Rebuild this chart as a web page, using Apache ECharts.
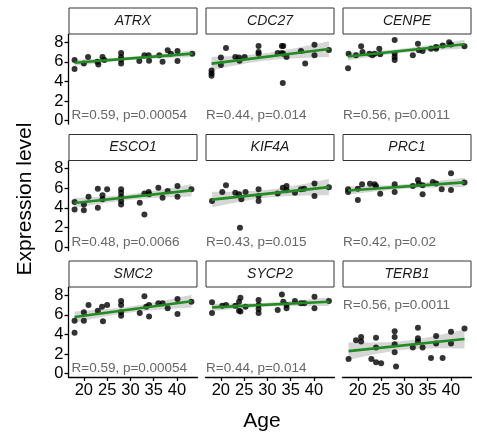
<!DOCTYPE html>
<html><head><meta charset="utf-8">
<script src="https://cdn.jsdelivr.net/npm/echarts@6/dist/echarts.min.js"></script>
<style>html,body{margin:0;padding:0;background:#fff}#c{width:477px;height:432px}</style>
</head><body><div id="c"></div>
<script>
const genes = ['ATRX','CDC27','CENPE','ESCO1','KIF4A','PRC1','SMC2','SYCP2','TERB1'];
const statLabels = ['R=0.59, p=0.00054','R=0.44, p=0.014','R=0.56, p=0.0011','R=0.48, p=0.0066','R=0.43, p=0.015','R=0.42, p=0.02','R=0.59, p=0.00054','R=0.44, p=0.014','R=0.56, p=0.0011'];
const xTicks = [20,25,30,35,40];
const yTicks = [0,2,4,6,8];
const ATRX = [[18,6.17],[18,5.27],[20,5.83],[20.9,6.5],[22.9,6.0],[23.1,5.73],[24,6.5],[24.4,6.17],[28,6.9],[28,6.5],[28,5.83],[28,6.2],[31.9,6.07],[33,6.67],[33.9,6.67],[34,6.1],[36.2,6.67],[36.9,6.0],[38,7.17],[38.7,6.83],[40.1,7.1],[40.1,6.07],[43.3,6.83]];
const CDC27 = [[18,5.1],[18,4.83],[18,4.57],[20,6.43],[20,5.67],[21.1,7.4],[23.1,6.5],[23.9,6.43],[24,6.1],[25.1,6.5],[28.1,7.6],[28.1,7.0],[28.1,6.83],[32.2,6.9],[33.1,7.6],[33.4,7.6],[33.1,6.9],[33.4,6.83],[33.3,3.83],[34.1,6.5],[37.2,7.1],[38.1,5.83],[40.1,7.73],[40.1,6.67],[43.2,7.2]];
const CENPE = [[17.9,5.33],[18,6.83],[19.6,6.67],[20.7,7.57],[21,7.0],[22.5,6.83],[23.1,6.67],[23.6,6.83],[24.6,7.33],[24.8,6.77],[27.9,8.23],[27.9,6.83],[27.9,6.5],[27.9,6.17],[31.8,6.67],[32.9,7.83],[33.1,7.17],[33.9,7.1],[35.7,7.33],[36.8,7.5],[36.8,7.33],[38.2,7.67],[39.6,8.0],[40,7.77],[42.9,7.57]];
const ESCO1 = [[18,3.85],[18,4.6],[20,4.36],[20,3.75],[21,5.14],[23,5.96],[23,4.02],[24,4.87],[24,5.28],[25,5.89],[28,5.89],[28,5.55],[28,5.14],[28,4.7],[28,4.36],[32,4.53],[33,3.34],[33,5.48],[33.9,5.62],[34,5.38],[36,6.06],[36.9,5.04],[38,5.72],[40.1,6.23],[40.1,5.14],[43.1,5.89]];
const KIF4A = [[18.1,4.7],[20.3,5.62],[21.1,6.3],[23.1,5.55],[23.9,5.38],[24.4,4.87],[25.3,5.62],[24.1,1.98],[28.1,5.89],[28.1,5.21],[28.1,4.7],[32.2,5.48],[33.3,6.06],[34.1,6.23],[34.1,5.8],[35.9,5.55],[37.2,5.89],[37.9,5.96],[40.1,6.5],[40.1,5.21],[43.2,6.1]];
const PRC1 = [[17.9,5.89],[17.9,5.62],[20,4.8],[20,5.96],[20.9,6.4],[22.6,6.47],[23.6,6.4],[23.9,6.23],[24.8,5.45],[27.9,6.4],[27.9,5.62],[31.8,6.23],[32.9,6.84],[33.1,6.5],[33.9,6.3],[33.9,5.38],[36.1,6.64],[36.8,6.5],[38,5.89],[40,7.52],[40,5.82],[42.9,6.6]];
const SMC2 = [[18,5.4],[18,4.17],[20,5.4],[20,6.27],[21,7.0],[23,6.4],[23.9,6.83],[24.1,5.33],[25,7.0],[28,7.4],[28,7.0],[28,6.27],[28,5.9],[32,6.17],[33,7.9],[33.4,6.83],[34,5.83],[34,7.0],[36,7.17],[36.9,7.17],[38,6.67],[40.1,7.6],[40.1,6.07],[43.1,7.33]];
const SYCP2 = [[18.1,7.27],[18.1,6.17],[20.3,6.93],[21.1,7.0],[23.1,6.93],[23.9,7.33],[24.2,7.73],[23.9,6.4],[24.2,6.33],[25.3,6.83],[28.1,7.5],[28.1,7.0],[28.1,6.6],[28.1,6.17],[32.2,6.5],[33.1,8.07],[33.4,7.33],[34.1,7.0],[34.1,6.67],[35.9,7.4],[37.2,7.17],[37.9,7.17],[40.1,7.83],[40.1,6.67],[43.2,7.4]];
const TERB1 = [[18,1.5],[19.6,3.4],[20.7,3.73],[20.7,3.27],[23.9,3.67],[23.9,2.67],[22.9,1.5],[23.9,1.17],[25,1.07],[27.9,4.33],[27.9,3.73],[27.9,3.0],[27.9,2.17],[28.2,0.73],[31.8,2.67],[32.9,4.67],[32.9,3.6],[32.9,3.27],[33.9,2.67],[35.7,1.6],[36.8,3.83],[36.8,3.07],[38.2,1.6],[40,4.27],[40,3.07],[42.9,4.6]];
const allData = [ATRX,CDC27,CENPE,ESCO1,KIF4A,PRC1,SMC2,SYCP2,TERB1];

const FONT = '"Liberation Sans", Arial, Helvetica, sans-serif';
const colLeft = [68.5, 205.5, 342.5], panelW = 129;
const rowTop = [34.5, 161, 287.5], panelH = 89.5, stripH = 27;
const XMIN = 16.7, XMAX = 44.4, YMIN = -0.34, YMAX = 8.78;

function fitLM(d){
  const n = d.length;
  let sx=0, sy=0; d.forEach(p=>{sx+=p[0]; sy+=p[1];});
  const mx=sx/n, my=sy/n;
  let sxx=0, sxy=0; d.forEach(p=>{sxx+=(p[0]-mx)**2; sxy+=(p[0]-mx)*(p[1]-my);});
  const b=sxy/sxx, a=my-b*mx;
  let sse=0; d.forEach(p=>{sse+=(p[1]-a-b*p[0])**2;});
  const s=Math.sqrt(sse/(n-2));
  const df=n-2, z=1.96, t=z+(z**3+z)/(4*df);
  const xs=d.map(p=>p[0]); const x0=Math.min(...xs), x1=Math.max(...xs);
  const band=[];
  for(let k=0;k<=40;k++){
    const x=x0+(x1-x0)*k/40, yh=a+b*x;
    const se=s*Math.sqrt(1/n+(x-mx)**2/sxx);
    band.push([x, yh-t*se, yh+t*se]);
  }
  return {line:[[x0,a+b*x0],[x1,a+b*x1]], band};
}

const grids=[], xAxes=[], yAxes=[], series=[], graphics=[];
genes.forEach((g,i)=>{
  const r=Math.floor(i/3), c=i%3;
  grids.push({left:colLeft[c], top:rowTop[r], width:panelW, height:panelH});
  const bottom = r===2, leftCol = c===0;
  xAxes.push({type:'value', gridIndex:i, min:XMIN, max:XMAX, splitLine:{show:false},
    axisLine:{show:bottom, onZero:false, lineStyle:{color:'#000', width:1.3}},
    axisTick:{show:bottom, length:4, customValues:xTicks, lineStyle:{color:'#000', width:1.3}},
    axisLabel:{show:bottom, customValues:xTicks, color:'#000', fontSize:16.5, fontFamily:FONT, margin:5}});
  yAxes.push({type:'value', gridIndex:i, min:YMIN, max:YMAX, splitLine:{show:false},
    axisLine:{show:leftCol, onZero:false, lineStyle:{color:'#000', width:1.3}},
    axisTick:{show:leftCol, length:4, customValues:yTicks, lineStyle:{color:'#000', width:1.3}},
    axisLabel:{show:leftCol, customValues:yTicks, color:'#000', fontSize:16.5, fontFamily:FONT, margin:5}});
  const f = fitLM(allData[i]);
  const band = f.band;
  series.push({type:'custom', xAxisIndex:i, yAxisIndex:i, data:band, silent:true, z:1,
    encode:{x:0, y:[1,2]},
    renderItem:(params, api)=>{
      if(params.dataIndex!==0) return null;
      const pts=[];
      band.forEach(b=>pts.push(api.coord([b[0],b[2]])));
      for(let k=band.length-1;k>=0;k--) pts.push(api.coord([band[k][0],band[k][1]]));
      return {type:'polygon', shape:{points:pts}, style:{fill:'rgba(153,153,153,0.4)'}};
    }});
  series.push({type:'scatter', xAxisIndex:i, yAxisIndex:i, data:allData[i], symbolSize:6,
    itemStyle:{color:'#000'}, silent:true, z:2});
  series.push({type:'line', xAxisIndex:i, yAxisIndex:i, data:f.line, showSymbol:false, silent:true, z:3,
    lineStyle:{color:'#228B22', width:2.6}});
  graphics.push({type:'rect', shape:{x:colLeft[c]+0.5, y:rowTop[r]-stripH+0.5, width:panelW-1, height:stripH-1},
    style:{fill:'#fff', stroke:'#333', lineWidth:1}});
  graphics.push({type:'text', x:colLeft[c]+panelW/2, y:rowTop[r]-stripH/2,
    style:{text:g, font:'italic 14px '+FONT, fill:'#1a1a1a', textAlign:'center', textVerticalAlign:'middle'}});
});

const chart = echarts.init(document.getElementById('c'), null, {renderer:'canvas'});
chart.setOption({animation:false, backgroundColor:'#fff', grid:grids, xAxis:xAxes, yAxis:yAxes, series});

genes.forEach((g,i)=>{
  const c=i%3;
  const yv = g==='TERB1' ? 7.0 : 0.5;
  const p = chart.convertToPixel({xAxisIndex:i, yAxisIndex:i}, [XMIN, yv]);
  graphics.push({type:'text', x:colLeft[c]+(c===0?3:0.5), y:p[1],
    style:{text:statLabels[i], font:'13.5px '+FONT, fill:'#666', textAlign:'left', textVerticalAlign:'middle'}});
});
graphics.push({type:'text', x:262, y:421, style:{text:'Age', font:'21px '+FONT, fill:'#000', textAlign:'center', textVerticalAlign:'middle'}});
graphics.push({type:'text', x:25, y:199, rotation:Math.PI/2, style:{text:'Expression level', font:'21px '+FONT, fill:'#000', textAlign:'center', textVerticalAlign:'middle'}});
chart.setOption({graphic:graphics});
</script></body></html>
